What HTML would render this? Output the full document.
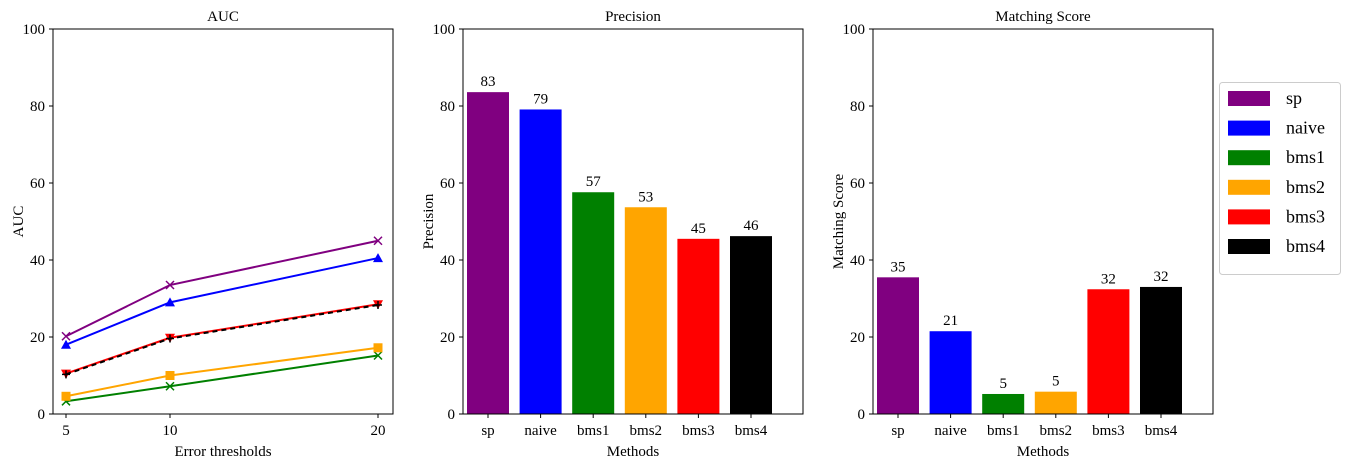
<!DOCTYPE html>
<html><head><meta charset="utf-8"><style>
body{margin:0;background:#fff;}
svg{display:block;font-family:"Liberation Serif",serif;}
</style></head><body>
<svg id="s" width="1350" height="469"></svg>
<script>
const methods=["sp","naive","bms1","bms2","bms3","bms4"];
const colors=["purple","blue","green","orange","red","black"];
const thresholds=[5,10,20];
const aucSp=[20.2,33.5,45];
const aucNaive=[18,29,40.5];
const aucBms1=[3.3,7.2,15.2];
const aucBms2=[4.6,10,17.2];
const aucBms3=[10.5,19.8,28.5];
const aucBms4=[10.3,19.6,28.3];
const precision=[83.6,79.1,57.6,53.7,45.5,46.2];
const precisionLabels=["83","79","57","53","45","46"];
const matching=[35.5,21.5,5.2,5.8,32.4,33.0];
const matchingLabels=["35","21","5","5","32","32"];
const yTicks=[0,20,40,60,80,100];

const NS="http://www.w3.org/2000/svg";
const svg=document.getElementById('s');
function el(tag,attrs,parent,text){const e=document.createElementNS(NS,tag);for(const k in attrs)e.setAttribute(k,attrs[k]);if(text!==undefined)e.textContent=text;(parent||svg).appendChild(e);return e;}
const T=29,B=414;
const y=v=>B-(B-T)*v/100;

function axes(x0,x1,title,ylabel,xlabel,name){
  const g=el('g',{});
  
  
  yTicks.forEach(t=>{
    el('line',{x1:x0-4,x2:x0,y1:y(t),y2:y(t),stroke:'#000'},g);
    const tx=el('text',{x:x0-8,y:y(t)+5,'text-anchor':'end','font-size':15},g,String(t));
    
    
  });
  const tt=el('text',{x:(x0+x1)/2,y:21,'text-anchor':'middle','font-size':15},g,title);
  
  
  const yl=el('text',{transform:`translate(${x0-30},${(T+B)/2}) rotate(-90)`,'text-anchor':'middle','font-size':15},g,ylabel);
  
  
  const xl=el('text',{x:(x0+x1)/2,y:456,'text-anchor':'middle','font-size':15},g,xlabel);
  
  
  return g;
}
function frame(x0,x1,g){el('rect',{x:x0,y:T,width:x1-x0,height:B-T,fill:'none',stroke:'#000','stroke-width':1},g);}

// Chart 1
const g1=axes(53,393,'AUC','AUC','Error thresholds','auc-chart');
const xl=v=>66+(v-5)*(378-66)/15;
thresholds.forEach(t=>{
  el('line',{x1:xl(t),x2:xl(t),y1:B,y2:B+4,stroke:'#000'},g1);
  const tx=el('text',{x:xl(t),y:B+21,'text-anchor':'middle','font-size':15},g1,String(t));
  
  
});
const series=[aucSp,aucNaive,aucBms1,aucBms2,aucBms3,aucBms4];
const markers=['x','tri','x','sq','vtri','plus'];
series.forEach((s,i)=>{
  const pts=s.map((v,j)=>xl(thresholds[j])+','+y(v)).join(' ');
  const pl=el('polyline',{points:pts,fill:'none',stroke:colors[i],'stroke-width':2,'stroke-dasharray':i===5?'5,4':'none'},g1);
  
  
  s.forEach((v,j)=>{
    const cx=xl(thresholds[j]),cy=y(v),c=colors[i],m=markers[i];
    let mk;
    if(m==='x')mk=el('path',{d:`M${cx-4},${cy-4}L${cx+4},${cy+4}M${cx-4},${cy+4}L${cx+4},${cy-4}`,stroke:c,'stroke-width':1.5},g1);
    else if(m==='tri')mk=el('path',{d:`M${cx},${cy-5}L${cx+5},${cy+4}L${cx-5},${cy+4}Z`,fill:c},g1);
    else if(m==='vtri')mk=el('path',{d:`M${cx},${cy+5}L${cx+5},${cy-4}L${cx-5},${cy-4}Z`,fill:c},g1);
    else if(m==='sq')mk=el('rect',{x:cx-4.5,y:cy-4.5,width:9,height:9,fill:c},g1);
    else mk=el('path',{d:`M${cx-4},${cy}L${cx+4},${cy}M${cx},${cy-4}L${cx},${cy+4}`,stroke:c,'stroke-width':1.5},g1);
    
    
  });
});
frame(53,393,g1);

function barChart(x0,x1,vals,labels,title,ylabel,name){
  const g=axes(x0,x1,title,ylabel,'Methods',name);
  const step=52.6, first=x0+25;
  vals.forEach((v,i)=>{
    const cx=first+i*step;
    const r=el('rect',{x:cx-21,y:y(v),width:42,height:B-y(v),fill:colors[i]},g);
    
    
    const t=el('text',{x:cx,y:y(v)-6,'text-anchor':'middle','font-size':15},g,labels[i]);
    
    
    el('line',{x1:cx,x2:cx,y1:B,y2:B+4,stroke:'#000'},g);
    const tx=el('text',{x:cx,y:B+21,'text-anchor':'middle','font-size':15},g,methods[i]);
    
    
  });
  frame(x0,x1,g);
}
barChart(463,803,precision,precisionLabels,'Precision','Precision','precision-chart');
barChart(873,1213,matching,matchingLabels,'Matching Score','Matching Score','matching-score-chart');

// Legend
const lg=el('g',{});


el('rect',{x:1219.5,y:82.5,width:121,height:192,rx:3,fill:'#fff',stroke:'#ccc'},lg);
methods.forEach((m,i)=>{
  const yy=98+i*29.6;
  const r=el('rect',{x:1228,y:yy-7,width:42,height:15,fill:colors[i]},lg);
  
  
  const t=el('text',{x:1286,y:yy+6,'font-size':18},lg,m);
  
  
});
</script>
</body></html>
